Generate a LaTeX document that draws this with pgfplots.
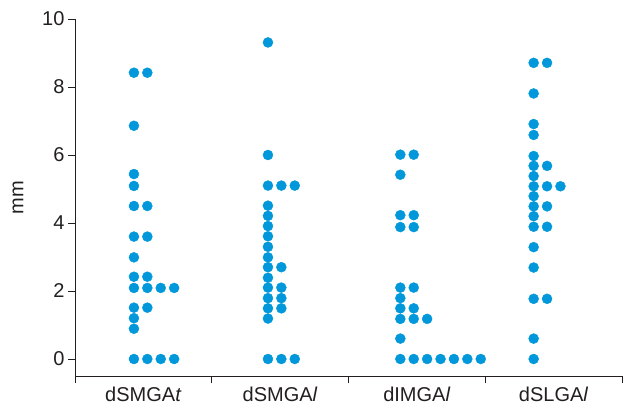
\documentclass[border=0pt]{standalone}
\usepackage{pgfplots}
\pgfplotsset{compat=1.18}
\usepackage{fontspec}
\setmainfont{Liberation Sans}
\usetikzlibrary{calc}
\definecolor{dotblue}{RGB}{0,152,218}
\definecolor{txt}{RGB}{35,31,32}
\pgfplotsset{dots/.style={only marks, mark=*, mark size=5pt, color=dotblue, mark options={draw=dotblue, fill=dotblue}}}
\begin{document}
\begin{tikzpicture}
\begin{axis}[
  scale only axis,
  width=547pt, height=357pt,
  xmin=0, xmax=4, ymin=-0.5, ymax=10,
  axis lines=left,
  axis line style={-, line width=0.9pt, txt},
  clip=false,
  xtick={0,1,2,3,4}, xticklabels={},
  extra x ticks={0.5,1.5,2.5,3.5},
  extra x tick labels={dSMGA\textit{t},dSMGA\textit{l},dIMGA\textit{l},dSLGA\textit{l}},
  extra x tick style={major tick length=0pt, tick style={draw=none}, xticklabel style={yshift=-7pt}},
  ytick={0,2,4,6,8,10},
  tick align=outside,
  major tick length=7pt,
  tick style={txt, line width=0.9pt},
  tick label style={font=\fontsize{20}{24}\selectfont, text=txt},
  /pgf/number format/assume math mode=true,
  ylabel={mm},
  ylabel style={font=\fontsize{20}{24}\selectfont, text=txt, at={(axis description cs:-0.104,0.5)}, anchor=center},
]
% dSMGAt
\addplot[dots] coordinates {
(0.431,8.42)(0.529,8.42)
(0.431,6.86)
(0.431,5.44)
(0.431,5.09)
(0.431,4.5)(0.529,4.5)
(0.431,3.6)(0.529,3.6)
(0.431,2.99)
(0.431,2.42)(0.529,2.42)
(0.431,2.09)(0.529,2.09)(0.627,2.09)(0.725,2.09)
(0.431,1.51)(0.529,1.51)
(0.431,1.2)
(0.431,0.89)
(0.431,0)(0.529,0)(0.627,0)(0.725,0)
};
% dSMGAl
\addplot[dots] coordinates {
(1.411,9.31)
(1.411,6.0)
(1.411,5.1)(1.509,5.1)(1.607,5.1)
(1.411,4.51)(1.411,4.21)(1.411,3.91)(1.411,3.61)(1.411,3.30)(1.411,2.99)
(1.411,2.70)(1.509,2.70)
(1.411,2.39)
(1.411,2.10)(1.509,2.10)
(1.411,1.79)(1.509,1.79)
(1.411,1.49)(1.509,1.49)
(1.411,1.19)
(1.411,0)(1.509,0)(1.607,0)
};
% dIMGAl
\addplot[dots] coordinates {
(2.379,6.01)(2.477,6.01)
(2.379,5.42)
(2.379,4.23)(2.477,4.23)
(2.379,3.88)(2.477,3.88)
(2.379,2.10)(2.477,2.10)
(2.379,1.79)
(2.379,1.49)(2.477,1.49)
(2.379,1.18)(2.477,1.18)(2.575,1.18)
(2.379,0.6)
(2.379,0)(2.477,0)(2.575,0)(2.673,0)(2.771,0)(2.869,0)(2.967,0)
};
% dSLGAl
\addplot[dots] coordinates {
(3.354,8.71)(3.452,8.71)
(3.354,7.81)
(3.354,6.91)
(3.354,6.59)
(3.354,5.97)
(3.354,5.68)(3.452,5.68)
(3.354,5.38)
(3.354,5.08)(3.452,5.08)(3.550,5.08)
(3.354,4.79)
(3.354,4.49)(3.452,4.49)
(3.354,4.20)
(3.354,3.89)(3.452,3.89)
(3.354,3.29)
(3.354,2.69)
(3.354,1.77)(3.452,1.77)
(3.354,0.6)
(3.354,0)
};
\end{axis}
\pgfresetboundingbox
\path ($(current axis.south west)+(-75pt,-29pt)$) rectangle ($(current axis.north east)+(2pt,19pt)$);
\end{tikzpicture}
\end{document}
